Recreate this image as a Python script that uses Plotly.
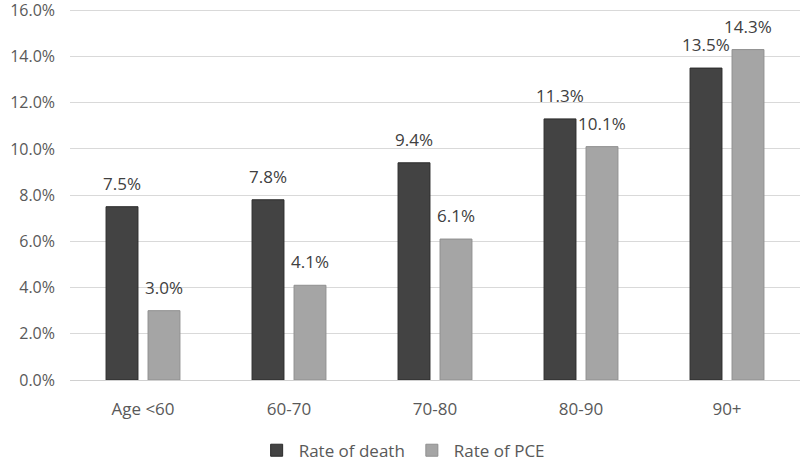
import plotly.graph_objects as go

categories = ["Age <60", "60-70", "70-80", "80-90", "90+"]
death = [7.5, 7.8, 9.4, 11.3, 13.5]
pce = [3.0, 4.1, 6.1, 10.1, 14.3]
y_ticks = [0, 2, 4, 6, 8, 10, 12, 14, 16]
y_tick_labels = [f"{v:.1f}%" for v in y_ticks]

FONT = "Open Sans"
BAR_OFFSET_PX = 21  # half slot width, for label placement above grouped bars

fig = go.Figure()
fig.add_trace(go.Bar(
    x=categories, y=death, name="Rate of death",
    marker=dict(color="#434343", line=dict(color="#2a2a2a", width=1)),
))
fig.add_trace(go.Bar(
    x=categories, y=pce, name="Rate of PCE",
    marker=dict(color="#a5a5a5", line=dict(color="#8f8f8f", width=1)),
))
annotations = []
for series, shift in ((death, -BAR_OFFSET_PX), (pce, BAR_OFFSET_PX)):
    for cat, v in zip(categories, series):
        annotations.append(dict(
            x=cat, y=v, xref="x", yref="y", text=f"{v:.1f}%", showarrow=False,
            xanchor="center", yanchor="bottom", xshift=shift, yshift=10,
            font=dict(size=17, color="#404040", family=FONT),
        ))

fig.update_layout(
    width=800, height=461,
    margin=dict(l=70, r=0, t=8, b=81, autoexpand=False),
    paper_bgcolor="white", plot_bgcolor="white",
    barmode="group", bargap=0.425, bargroupgap=0.24,
    font=dict(family=FONT, size=15, color="#595959"),
    showlegend=True,
    annotations=annotations,
    legend=dict(orientation="h", x=0.455, xanchor="center", y=-0.19, yanchor="middle",
                font=dict(size=17, color="#595959"), itemwidth=34),
)
fig.update_yaxes(range=[0, 16.1], tickvals=y_ticks, ticktext=y_tick_labels,
                 showgrid=True, gridcolor="#d9d9d9", gridwidth=1,
                 zeroline=True, zerolinecolor="#d0d0d0", zerolinewidth=1,
                 showline=False, ticks="", ticklabelstandoff=14, automargin=False,
                 ticklabeloverflow="allow",
                 tickfont=dict(size=16, color="#595959"))
fig.update_xaxes(showgrid=False, showline=False, ticks="outside", ticklen=14, automargin=False,
                 tickcolor="rgba(0,0,0,0)", tickfont=dict(size=17, color="#595959"))
fig.write_html("out.html", config={"displayModeBar": False},
               post_script="document.body.style.margin='0';document.body.style.overflow='hidden';")
